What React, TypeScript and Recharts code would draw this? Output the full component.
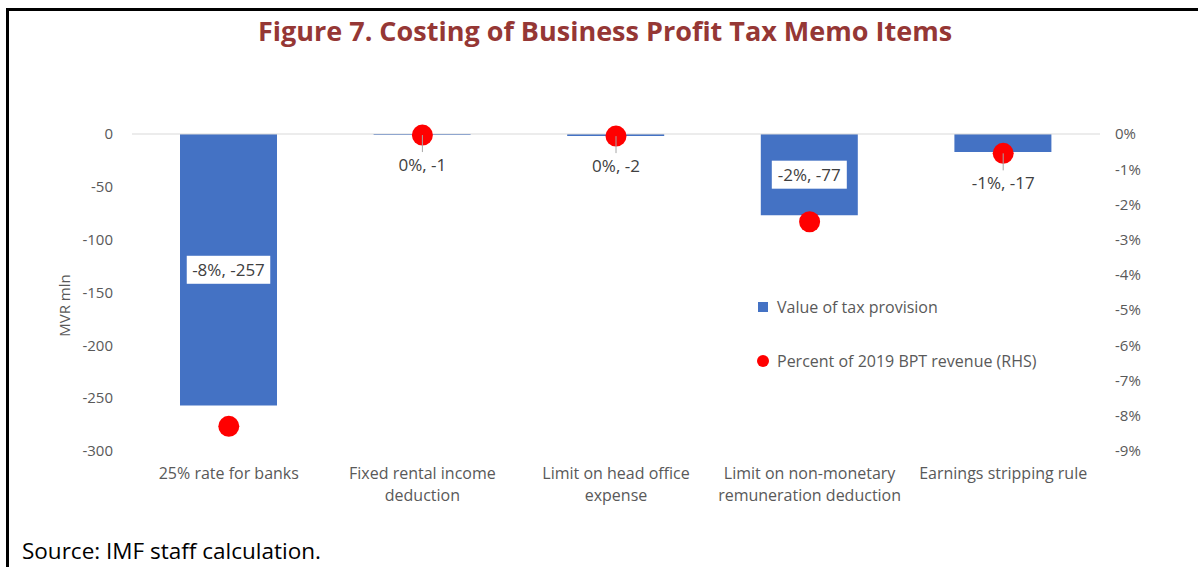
import React from 'react';
import { ComposedChart, Bar, Line, XAxis, YAxis, ReferenceLine, Legend, LabelList } from 'recharts';

const categories = [
  '25% rate for banks',
  'Fixed rental income\ndeduction',
  'Limit on head office\nexpense',
  'Limit on non-monetary\nremuneration deduction',
  'Earnings stripping rule',
];
const taxValues = [-257, -1, -2, -77, -17];
const revenueShares = [-8.3, -0.03, -0.06, -2.49, -0.55];
const leftTicks = [0, -50, -100, -150, -200, -250, -300];
const rightTicks = [0, -1, -2, -3, -4, -5, -6, -7, -8, -9];
const seriesNames = ['Value of tax provision', 'Percent of 2019 BPT revenue (RHS)'];

const data = categories.map((name, i) => ({ name, value: taxValues[i], pct: revenueShares[i] }));

const FONT = '"Open Sans", sans-serif';
const insideThreshold = 50;

const labelText = (i: number) => `${Math.round(revenueShares[i])}%, ${taxValues[i]}`;

const BarLabel = (props: any) => {
  const vb = props.viewBox || props;
  const i = categories.indexOf(props.value);
  if (i < 0 || Math.abs(taxValues[i]) < insideThreshold) return null;
  const cx = vb.x + vb.width / 2;
  const cy = vb.y + vb.height / 2;
  const txt = labelText(i);
  const w = txt.length * 8.5 + 7;
  return (
    <g>
      <rect x={cx - w / 2} y={cy - 14} width={w} height={28} fill="#ffffff" />
      <text x={cx} y={cy} dy="0.36em" textAnchor="middle" fontSize={17} fontFamily={FONT} fill="#404040">
        {txt}
      </text>
    </g>
  );
};

const DotLabel = (props: any) => {
  const vb = props.viewBox || props;
  const i = categories.indexOf(props.value);
  if (i < 0 || Math.abs(taxValues[i]) >= insideThreshold) return null;
  const x = vb.x;
  const y = vb.y;
  return (
    <g>
      <line x1={x} y1={y} x2={x} y2={y + 17} stroke="#a6a6a6" strokeWidth={1} />
      <text x={x} y={y + 30} dy="0.36em" textAnchor="middle" fontSize={17} fontFamily={FONT} fill="#404040">
        {labelText(i)}
      </text>
    </g>
  );
};

const CategoryTick = (props: any) => {
  const { x, y, payload } = props;
  const lines = String(payload.value).split('\n');
  return (
    <text x={x} y={y} textAnchor="middle" fontSize={16} fontFamily={FONT} fill="#595959">
      {lines.map((ln, k) => (
        <tspan key={k} x={x} dy={k === 0 ? '0.71em' : 22}>
          {ln}
        </tspan>
      ))}
    </text>
  );
};

const LegendContent = () => (
  <div style={{ fontFamily: FONT, fontSize: 16, color: '#595959' }}>
    <div style={{ display: 'flex', alignItems: 'center', height: 22, marginBottom: 32 }}>
      <div style={{ width: 10, height: 10, background: '#4472C4', marginLeft: 3, marginRight: 9 }} />
      <span>{seriesNames[0]}</span>
    </div>
    <div style={{ display: 'flex', alignItems: 'center', height: 22 }}>
      <div style={{ width: 12, height: 12, borderRadius: '50%', background: '#FF0000', marginLeft: 2, marginRight: 8 }} />
      <span>{seriesNames[1]}</span>
    </div>
  </div>
);

const AxisTitle = (props: any) => {
  const vb = props.viewBox || { x: 72, y: 134, width: 60, height: 317 };
  const x = vb.x - 7;
  const y = vb.y + vb.height / 2 + 13;
  return (
    <text x={x} y={y} transform={`rotate(-90 ${x} ${y})`} textAnchor="middle" dy="0.36em" fontSize={15} fontFamily={FONT} fill="#595959">
      MVR mln
    </text>
  );
};

export default function App() {
  return (
    <div style={{ position: 'absolute', left: 0, top: 0, width: 1201, height: 567, background: '#fff', overflow: 'hidden' }}>
      <div style={{ position: 'absolute', left: 6, top: 8, width: 1192, height: 3, background: '#000' }} />
      <div style={{ position: 'absolute', left: 6, top: 8, width: 3, height: 559, background: '#000' }} />
      <div
        style={{
          position: 'absolute',
          left: 0,
          top: 12,
          width: 1210,
          textAlign: 'center',
          fontFamily: FONT,
          fontWeight: 700,
          fontSize: 27,
          lineHeight: '38px',
          color: '#953735',
        }}
      >
        Figure 7. Costing of Business Profit Tax Memo Items
      </div>
      <div style={{ position: 'absolute', left: 0, top: 0 }}>
        <ComposedChart width={1201} height={567} data={data} margin={{ top: 134, right: 41, bottom: 56, left: 72 }}>
          <XAxis
            dataKey="name"
            xAxisId={0}
            axisLine={false}
            tickLine={false}
            tickSize={0}
            tickMargin={17}
            height={60}
            interval={0}
            tick={<CategoryTick />}
          />
          <YAxis
            yAxisId="left"
            orientation="left"
            width={60}
            domain={[-300, 0]}
            ticks={leftTicks}
            axisLine={false}
            tickLine={false}
            tickSize={0}
            tickMargin={19}
            tick={{ fontSize: 15, fontFamily: FONT, fill: '#595959' }}
            label={<AxisTitle />}
          />
          <YAxis
            yAxisId="right"
            orientation="right"
            width={60}
            domain={[-9, 0]}
            ticks={rightTicks}
            axisLine={false}
            tickLine={false}
            tickSize={0}
            tickMargin={15}
            tickFormatter={(v: number) => `${v}%`}
            tick={{ fontSize: 15, fontFamily: FONT, fill: '#595959' }}
          />
          <ReferenceLine yAxisId="left" y={0} stroke="#d9d9d9" strokeWidth={1} />
          <Bar yAxisId="left" dataKey="value" name={seriesNames[0]} fill="#4472C4" barSize={97} isAnimationActive={false}>
            <LabelList dataKey="name" content={<BarLabel />} />
          </Bar>
          <Line
            yAxisId="right"
            dataKey="pct"
            name={seriesNames[1]}
            stroke="none"
            strokeWidth={0}
            isAnimationActive={false}
            activeDot={false}
            dot={(p: any) => <circle key={`d${p.index}`} cx={p.cx} cy={p.cy} r={10.5} fill="#FF0000" />}
          >
            <LabelList dataKey="name" content={<DotLabel />} />
          </Line>
          <Legend
            layout="vertical"
            align="center"
            verticalAlign="middle"
            content={<LegendContent />}
            wrapperStyle={{ position: 'absolute', left: 755, top: 296, width: 340 }}
          />
        </ComposedChart>
      </div>
      <div
        style={{
          position: 'absolute',
          left: 22,
          top: 535,
          fontFamily: FONT,
          fontSize: 22.5,
          lineHeight: '32px',
          color: '#000',
        }}
      >
        Source: IMF staff calculation.
      </div>
    </div>
  );
}
